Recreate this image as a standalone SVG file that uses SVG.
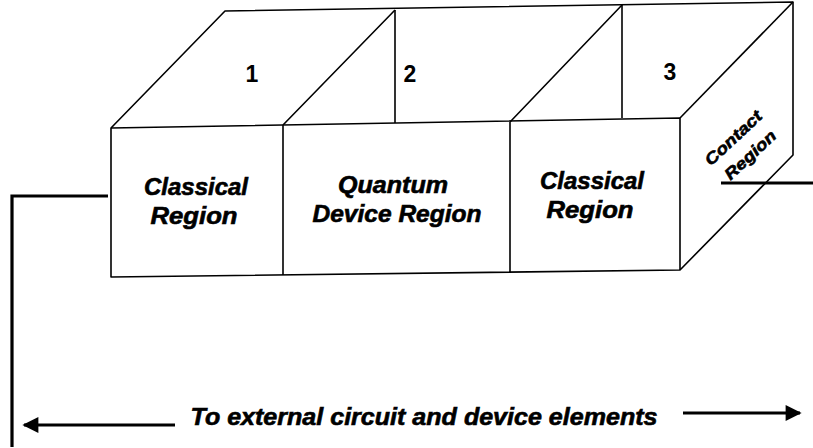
<svg xmlns="http://www.w3.org/2000/svg" width="813" height="448" viewBox="0 0 813 448">
<style>
.e{fill:none;stroke:#000;stroke-width:1.6;stroke-linejoin:round}
.w{fill:none;stroke:#000;stroke-width:3.2}
.t{font-family:"Liberation Sans",Arial,sans-serif;font-weight:bold;font-style:italic;fill:#000;stroke:#000;stroke-width:0.6;text-anchor:middle}
.n{font-family:"Liberation Sans",Arial,sans-serif;font-weight:bold;fill:#000;text-anchor:middle;font-size:23px}
</style>
<defs>
<marker id="ah" viewBox="0 0 10 10" refX="9" refY="5" markerWidth="6" markerHeight="5" markerUnits="strokeWidth" orient="auto"><path d="M0,0 L10,5 L0,10 z" fill="#000"/></marker>
</defs>
<rect width="813" height="448" fill="#fff"/>
<g id="box">
<path class="e" d="M111,128 L225,11 L793,2 L793,155 L680,270 L111,277 Z"/>
<path class="e" d="M111,128 L680,118 L680,270"/>
<path class="e" d="M680,118 L793,2"/>
</g>
<g id="region1">
<path class="e" d="M283,125 L395,10 M283,125 L283,275"/>
<text class="n" x="252" y="82">1</text>
<text class="t" font-size="23" x="196" y="195" textLength="104" lengthAdjust="spacingAndGlyphs">Classical</text>
<text class="t" font-size="23" x="194" y="224" textLength="87" lengthAdjust="spacingAndGlyphs">Region</text>
</g>
<g id="region2">
<path class="e" d="M395,10 L395,123 M510,122 L622,5 M510,122 L510,272"/>
<text class="n" x="410" y="82">2</text>
<text class="t" font-size="23" x="393" y="193" textLength="110" lengthAdjust="spacingAndGlyphs">Quantum</text>
<text class="t" font-size="23" x="397" y="222" textLength="169" lengthAdjust="spacingAndGlyphs">Device Region</text>
</g>
<g id="region3">
<path class="e" d="M622,5 L622,118"/>
<text class="n" x="670" y="80">3</text>
<text class="t" font-size="23" x="592" y="189" textLength="104" lengthAdjust="spacingAndGlyphs">Classical</text>
<text class="t" font-size="23" x="590" y="218" textLength="87" lengthAdjust="spacingAndGlyphs">Region</text>
</g>
<g id="contact">
<text class="t" font-size="16" stroke-width="0.4" transform="translate(737,142) rotate(-43)" textLength="72" lengthAdjust="spacingAndGlyphs">Contact</text>
<text class="t" font-size="16" stroke-width="0.4" transform="translate(754,159) rotate(-43)" textLength="64" lengthAdjust="spacingAndGlyphs">Region</text>
</g>
<g id="connectors">
<path class="w" d="M108,196 L12,196 L12,447"/>
<path class="w" d="M721,183 L813,183"/>
<path class="w" d="M175,425 L24,425" marker-end="url(#ah)"/>
<path class="w" d="M683,413 L800,413" marker-end="url(#ah)"/>
</g>
<text class="t" font-size="23" x="424" y="425" textLength="467" lengthAdjust="spacingAndGlyphs">To external circuit and device elements</text>
</svg>
